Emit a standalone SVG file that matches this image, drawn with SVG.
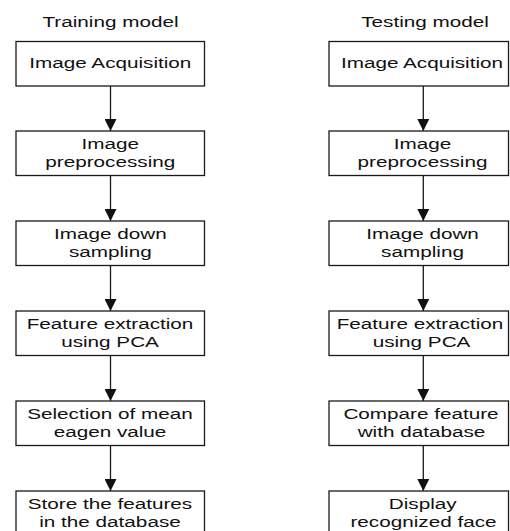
<svg xmlns="http://www.w3.org/2000/svg" width="510" height="531" viewBox="0 0 510 531">
<style>
.box{fill:#fff;stroke:#1a1a1a;stroke-width:1.3}
.t{font-family:"Liberation Sans",Arial,sans-serif;font-size:15px;fill:#111;text-anchor:middle}
.conn{stroke:#1a1a1a;stroke-width:1.3;fill:none;marker-end:url(#arr)}
</style>
<defs>
<marker id="arr" viewBox="0 0 12 12" refX="12" refY="6" markerWidth="12" markerHeight="12" markerUnits="userSpaceOnUse" orient="auto">
<path d="M0,0 L12,6 L0,12 z" fill="#111"/>
</marker>
</defs>
<rect width="510" height="531" fill="#fff"/>
<g id="titles">
<text class="t" transform="translate(110.5,26.5) scale(1.38,1)">Training model</text>
<text class="t" transform="translate(425,26.5) scale(1.38,1)">Testing model</text>
</g>
<g id="connectors">
<line class="conn" x1="110.5" y1="86" x2="110.5" y2="131"/>
<line class="conn" x1="110.5" y1="175.5" x2="110.5" y2="221"/>
<line class="conn" x1="110.5" y1="265.5" x2="110.5" y2="311"/>
<line class="conn" x1="110.5" y1="355.5" x2="110.5" y2="401"/>
<line class="conn" x1="110.5" y1="445.5" x2="110.5" y2="491"/>
<line class="conn" x1="423.3" y1="86" x2="423.3" y2="131"/>
<line class="conn" x1="423.3" y1="175.5" x2="423.3" y2="221"/>
<line class="conn" x1="423.3" y1="265.5" x2="423.3" y2="311"/>
<line class="conn" x1="423.3" y1="355.5" x2="423.3" y2="401"/>
<line class="conn" x1="423.3" y1="445.5" x2="423.3" y2="491"/>
</g>
<g id="train1"><rect class="box" x="16" y="41.5" width="188.5" height="44.5"/>
<text class="t" transform="translate(110.3,68.3) scale(1.38,1)">Image Acquisition</text></g>
<g id="train2"><rect class="box" x="16" y="131" width="188.5" height="44.5"/>
<text class="t" transform="translate(110.3,149.3) scale(1.38,1)">Image</text>
<text class="t" transform="translate(110.3,167) scale(1.38,1)">preprocessing</text></g>
<g id="train3"><rect class="box" x="16" y="221" width="188.5" height="44.5"/>
<text class="t" transform="translate(110.3,239.3) scale(1.38,1)">Image down</text>
<text class="t" transform="translate(110.3,257) scale(1.38,1)">sampling</text></g>
<g id="train4"><rect class="box" x="16" y="311" width="188.5" height="44.5"/>
<text class="t" transform="translate(110,329.3) scale(1.38,1)">Feature extraction</text>
<text class="t" transform="translate(110,347) scale(1.38,1)">using PCA</text></g>
<g id="train5"><rect class="box" x="16" y="401" width="188.5" height="44.5"/>
<text class="t" transform="translate(110,419.3) scale(1.38,1)">Selection of mean</text>
<text class="t" transform="translate(110,437) scale(1.38,1)">eagen value</text></g>
<g id="train6"><rect class="box" x="16" y="491" width="188.5" height="44.5"/>
<text class="t" transform="translate(110,509.3) scale(1.38,1)">Store the features</text>
<text class="t" transform="translate(110,527) scale(1.38,1)">in the database</text></g>
<g id="test1"><rect class="box" x="329" y="41.5" width="179.5" height="44.5"/>
<text class="t" transform="translate(422,68.3) scale(1.38,1)">Image Acquisition</text></g>
<g id="test2"><rect class="box" x="329" y="131" width="179.5" height="44.5"/>
<text class="t" transform="translate(422.5,149.3) scale(1.38,1)">Image</text>
<text class="t" transform="translate(422.5,167) scale(1.38,1)">preprocessing</text></g>
<g id="test3"><rect class="box" x="329" y="221" width="179.5" height="44.5"/>
<text class="t" transform="translate(422.5,239.3) scale(1.38,1)">Image down</text>
<text class="t" transform="translate(422.5,257) scale(1.38,1)">sampling</text></g>
<g id="test4"><rect class="box" x="329" y="311" width="179.5" height="44.5"/>
<text class="t" transform="translate(420,329.3) scale(1.38,1)">Feature extraction</text>
<text class="t" transform="translate(421.5,347) scale(1.38,1)">using PCA</text></g>
<g id="test5"><rect class="box" x="329" y="401" width="179.5" height="44.5"/>
<text class="t" transform="translate(421,419.3) scale(1.38,1)">Compare feature</text>
<text class="t" transform="translate(421.5,437) scale(1.38,1)">with database</text></g>
<g id="test6"><rect class="box" x="329" y="491" width="179.5" height="44.5"/>
<text class="t" transform="translate(422.7,509.3) scale(1.38,1)">Display</text>
<text class="t" transform="translate(423.5,527) scale(1.38,1)">recognized face</text></g>
</svg>
